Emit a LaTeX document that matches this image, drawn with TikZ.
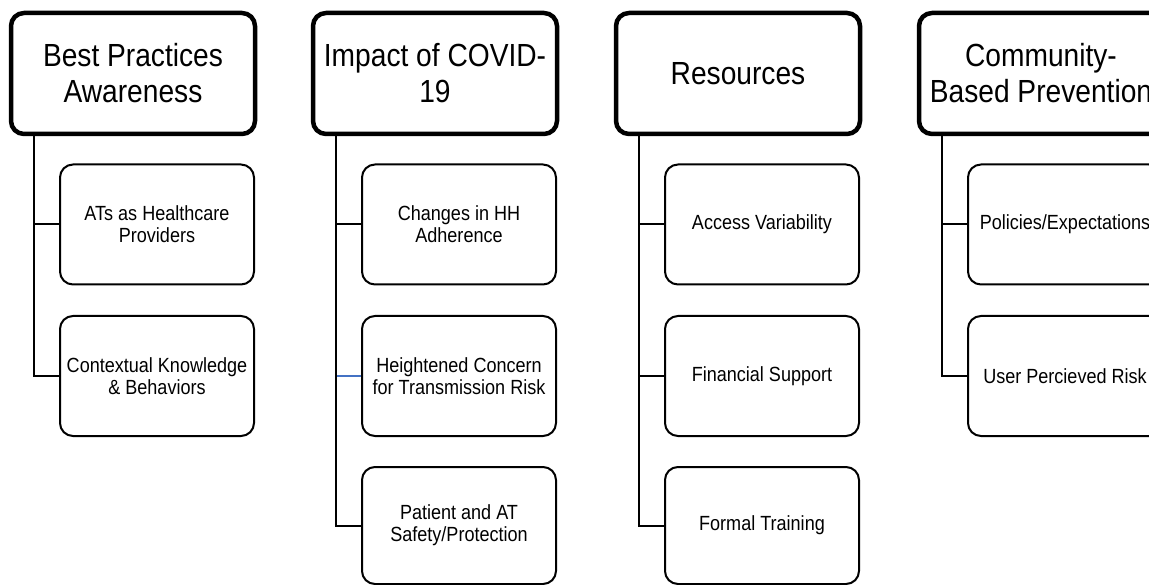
\documentclass[tikz,border=0pt]{standalone}
\usepackage{fontspec}
\setmainfont{Liberation Sans}[FakeStretch=0.88]
\definecolor{linkblue}{RGB}{68,114,196}
\begin{document}
\begin{tikzpicture}[x=1pt,y=-1pt,
  headbox/.style={draw=black, line width=4.5pt, rounded corners=13pt, fill=white,
    minimum width=244pt, minimum height=121pt, align=center, inner sep=0pt,
    font=\fontsize{32}{36}\selectfont},
  childbox/.style={draw=black, line width=2pt, rounded corners=13pt, fill=white,
    minimum width=194pt, minimum height=120pt, align=center, inner sep=0pt,
    font=\fontsize{20.5}{22}\selectfont},
  link/.style={draw=black, line width=2pt},
  bluelink/.style={draw=linkblue, line width=1.3pt}]
\useasboundingbox (0,0) rectangle (1149,585);
\clip (0,0) rectangle (1149,585);
\fill[white] (0,0) rectangle (1149,585);

% column 1
\node[headbox] (h1) at (133,73.5) {Best Practices\\Awareness};
\node[childbox] (c11) at (157,224.5) {ATs as Healthcare\\Providers};
\node[childbox] (c12) at (157,376) {Contextual Knowledge\\\& Behaviors};
\coordinate (t1) at ([xshift=25pt]h1.south west);
\draw[link] (t1) |- (c12.west);
\draw[link] (c11.west -| t1) -- (c11.west);

% column 2
\node[headbox] (h2) at (435,73.5) {Impact of COVID-\\19};
\node[childbox] (c21) at (459,224.5) {Changes in HH\\Adherence};
\node[childbox] (c22) at (459,376) {Heightened Concern\\for Transmission Risk};
\node[childbox, minimum height=117pt] (c23) at (459,525.5) {Patient and AT\\Safety/Protection};
\coordinate (t2) at ([xshift=25pt]h2.south west);
\draw[bluelink] (c22.west -| t2) -- (c22.west);
\draw[link] (t2) |- (c23.west);
\draw[link] (c21.west -| t2) -- (c21.west);

% column 3
\node[headbox] (h3) at (738,73.5) {Resources};
\node[childbox] (c31) at (762,224.5) {Access Variability};
\node[childbox] (c32) at (762,376) {Financial Support};
\node[childbox, minimum height=117pt] (c33) at (762,525.5) {Formal Training};
\coordinate (t3) at ([xshift=25pt]h3.south west);
\draw[link] (t3) |- (c33.west);
\draw[link] (c31.west -| t3) -- (c31.west);
\draw[link] (c32.west -| t3) -- (c32.west);

% column 4
\node[headbox] (h4) at (1041,73.5) {Community-\\Based Prevention};
\node[childbox] (c41) at (1065,224.5) {Policies/Expectations};
\node[childbox] (c42) at (1065,376) {User Percieved Risk};
\coordinate (t4) at ([xshift=25pt]h4.south west);
\draw[link] (t4) |- (c42.west);
\draw[link] (c41.west -| t4) -- (c41.west);
\end{tikzpicture}
\end{document}
